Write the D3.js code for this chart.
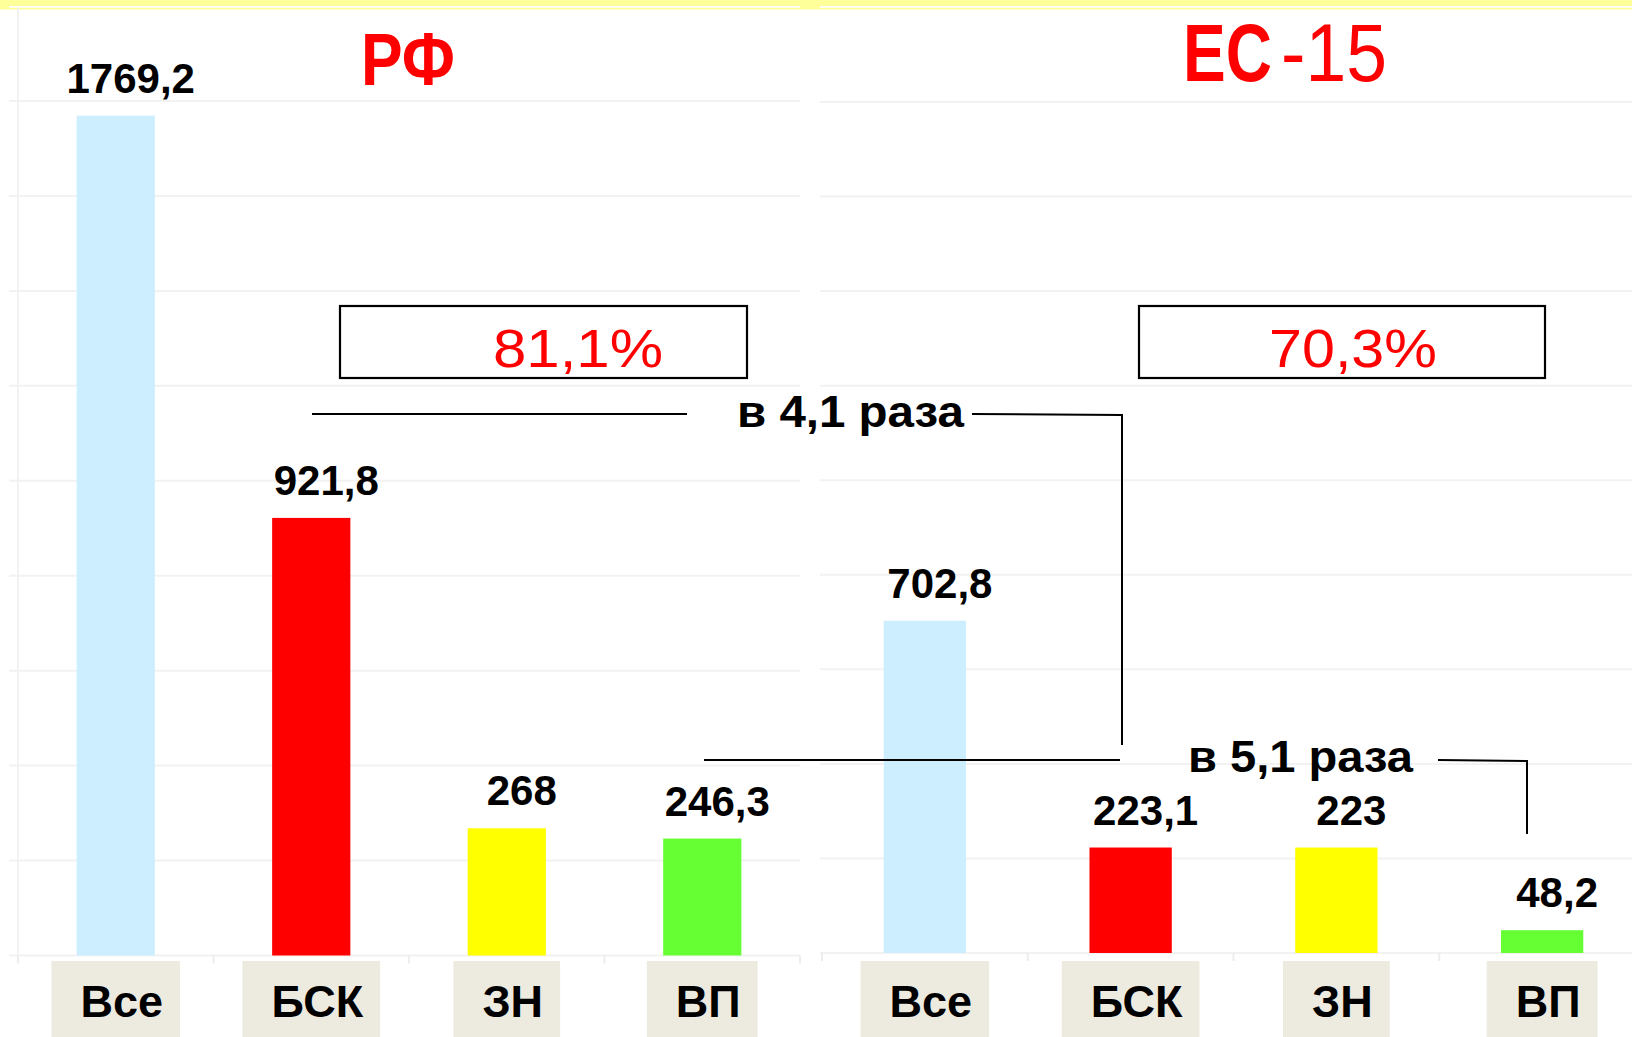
<!DOCTYPE html>
<html>
<head>
<meta charset="utf-8">
<script src="https://cdn.jsdelivr.net/npm/d3@7"></script>
<style>
  body { margin: 0; background: #fff; }
  svg { display: block; font-family: "Liberation Sans", Arial, sans-serif; }
</style>
</head>
<body>
<div id="chart"></div>
<script>
///////////////////// DATA /////////////////////////
const categories = ["Все", "БСК", "ЗН", "ВП"];
const rf_values = [1769.2, 921.8, 268, 246.3];
const rf_labels = ["1769,2", "921,8", "268", "246,3"];
const eu_values = [702.8, 223.1, 223, 48.2];
const eu_labels = ["702,8", "223,1", "223", "48,2"];
const bar_colors = ["#cceeff", "#ff0000", "#ffff00", "#66ff33"];
const y_ticks = [0, 200, 400, 600, 800, 1000, 1200, 1400, 1600, 1800];
const shares = ["81,1%", "70,3%"];
const ratios = ["в 4,1 раза", "в 5,1 раза"];

let width = 1632, height = 1037;

let svg = d3.select("#chart")
    .append("svg")
    .attr("width", width)
    .attr("height", height);

// top yellow strip with thin white border line
svg.append("rect").attr("x", 0).attr("y", 0).attr("width", width).attr("height", 9.5).attr("fill", "#ffff99");
svg.append("line").attr("x1", 9).attr("x2", 800).attr("y1", 6.8).attr("y2", 6.8).attr("stroke", "#fff").attr("stroke-width", 1.8);
svg.append("line").attr("x1", 820).attr("x2", width).attr("y1", 6.8).attr("y2", 6.8).attr("stroke", "#fff").attr("stroke-width", 1.8);

/////////////////////// ONE PANEL /////////////////////////////
let draw_panel = (values, labels, opt) => {
    let g = svg.append("g");

    let x_scale = d3.scaleBand()
        .domain(categories)
        .range(opt.x_range)
        .padding(0);

    let y_scale = d3.scaleLinear()
        .domain([0, 1800])
        .range(opt.y_range);

    // gridlines
    g.selectAll(".grid")
        .data(y_ticks)
        .enter()
        .append("line")
        .attr("x1", opt.grid_x[0])
        .attr("x2", opt.grid_x[1])
        .attr("y1", d => y_scale(d))
        .attr("y2", d => y_scale(d))
        .attr("stroke", "#f2f2f2")
        .attr("stroke-width", 2);

    if (opt.show_axis) {
        g.append("line")
            .attr("x1", opt.x_range[0]).attr("x2", opt.x_range[0])
            .attr("y1", 8).attr("y2", y_scale(0))
            .attr("stroke", "#f2f2f2").attr("stroke-width", 2);
    }

    // bottom axis ticks at band boundaries
    let edges = categories.map(c => x_scale(c)).concat([opt.x_range[1]]);
    g.selectAll(".tick")
        .data(edges)
        .enter()
        .append("line")
        .attr("x1", d => d).attr("x2", d => d)
        .attr("y1", y_scale(0)).attr("y2", y_scale(0) + 8)
        .attr("stroke", "#ededed").attr("stroke-width", 2);

    // bars
    let bw = x_scale.bandwidth() * 0.4;
    g.selectAll(".bar")
        .data(values)
        .enter()
        .append("rect")
        .attr("x", (d, i) => x_scale(categories[i]) + x_scale.bandwidth() / 2 - bw / 2)
        .attr("y", d => y_scale(d))
        .attr("width", bw)
        .attr("height", d => y_scale(0) - y_scale(d))
        .attr("fill", (d, i) => bar_colors[i]);

    // value labels
    g.selectAll(".val")
        .data(values)
        .enter()
        .append("text")
        .attr("x", (d, i) => x_scale(categories[i]) + x_scale.bandwidth() / 2 + 15)
        .attr("y", d => y_scale(d) - 23)
        .attr("text-anchor", "middle")
        .attr("font-size", 42)
        .attr("font-weight", "bold")
        .attr("fill", "#000")
        .text((d, i) => labels[i]);

    // category label boxes
    categories.forEach(c => {
        let cx = x_scale(c) + x_scale.bandwidth() / 2;
        let box = g.append("rect").attr("fill", "#edeae0");
        let t = g.append("text")
            .attr("x", cx + 6)
            .attr("y", 1017)
            .attr("text-anchor", "middle")
            .attr("font-size", 45)
            .attr("font-weight", "bold")
            .text(c);
        let w = t.node().getComputedTextLength() + 46;
        box.attr("x", cx - w / 2)
            .attr("y", 961)
            .attr("width", w)
            .attr("height", 76);
    });

    // share box
    g.append("rect")
        .attr("x", opt.share_box[0]).attr("y", 306)
        .attr("width", opt.share_box[1]).attr("height", 72)
        .attr("fill", "#fff").attr("stroke", "#000").attr("stroke-width", 2.2);
    g.append("text")
        .attr("x", opt.share_text[0]).attr("y", 367)
        .attr("font-size", 54)
        .attr("fill", "#ff0000")
        .attr("textLength", opt.share_text[1])
        .attr("lengthAdjust", "spacingAndGlyphs")
        .text(opt.share);

    return {x_scale, y_scale};
};

let rf = draw_panel(rf_values, rf_labels, {
    x_range: [18, 800], y_range: [955.5, 101], grid_x: [9, 800], show_axis: true,
    share: shares[0], share_box: [340, 407], share_text: [493, 170]
});
let eu = draw_panel(eu_values, eu_labels, {
    x_range: [822, 1645], y_range: [953, 102], grid_x: [820, width], show_axis: false,
    share: shares[1], share_box: [1139, 406], share_text: [1269, 168]
});

// titles (condensed by horizontal scaling)
let title = (txt, x, y, size, weight, target_w) => {
    let t = svg.append("text")
        .attr("font-size", size).attr("font-weight", weight).attr("fill", "#ff0000")
        .text(txt);
    let w = t.node().getComputedTextLength();
    t.attr("transform", `translate(${x},${y}) scale(${target_w / w},1)`);
};
title("РФ", 361, 85, 75, "bold", 94);
title("ЕС", 1183, 81, 81, "bold", 89);
title("-15", 1281, 81, 81, "normal", 106);

// ratio annotations
let line = d3.line();
let conn = (pts) => svg.append("path")
    .attr("d", line(pts))
    .attr("fill", "none").attr("stroke", "#000").attr("stroke-width", 2);

conn([[312, 414], [687, 414]]);
conn([[972, 414], [1122, 415], [1122, 745]]);
conn([[704, 760], [1120, 760]]);
conn([[1438, 760], [1527, 761], [1527, 834]]);

svg.append("text")
    .attr("x", 737).attr("y", 427)
    .attr("font-size", 45).attr("font-weight", "bold")
    .attr("textLength", 227).attr("lengthAdjust", "spacingAndGlyphs")
    .text(ratios[0]);
svg.append("text")
    .attr("x", 1188).attr("y", 772)
    .attr("font-size", 45).attr("font-weight", "bold")
    .attr("textLength", 225).attr("lengthAdjust", "spacingAndGlyphs")
    .text(ratios[1]);
</script>
</body>
</html>
